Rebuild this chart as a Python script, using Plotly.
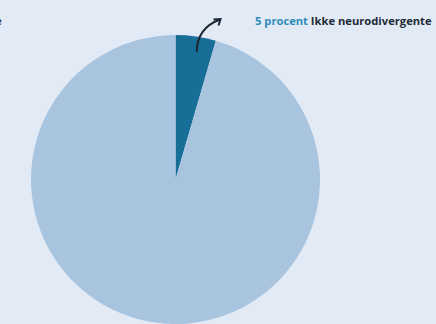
import plotly.graph_objects as go

labels = ["Ikke neurodivergente", "Neurodivergente"]
values = [4.5, 95.5]
colors = ["#176f97", "#a8c4df"]
label_pct = "5 procent"
label_txt = "Ikke neurodivergente"

W, H = 436, 324
BG = "#e2ebf5"

def px(x):
    return x / W

def py(y):
    return 1 - y / H

fig = go.Figure(go.Pie(
    labels=labels, values=values, sort=False, direction="clockwise", rotation=0,
    marker=dict(colors=colors, line=dict(width=0)),
    textinfo="none", hoverinfo="label+percent", showlegend=False,
    domain=dict(x=[px(30), px(321)], y=[0, py(35)]),
))

# curved arrow
curve = f"M {px(196.7)} {py(52)} Q {px(197)} {py(28)} {px(220)} {py(19.5)}"
head = f"M {px(213.5)} {py(19.5)} L {px(220.5)} {py(19)} L {px(218.5)} {py(25.5)}"
fig.add_shape(type="path", path=curve, xref="paper", yref="paper",
              line=dict(color="#1b2633", width=2))
fig.add_shape(type="path", path=head, xref="paper", yref="paper",
              line=dict(color="#1b2633", width=2))

fig.add_annotation(
    x=px(253), y=py(20), xref="paper", yref="paper", xanchor="left", yanchor="middle",
    showarrow=False,
    text=f"<b><span style='color:#2f8bb9'>{label_pct}</span> {label_txt}</b>",
    font=dict(family="Open Sans", size=11.2, color="#1e2b38"),
)
fig.add_annotation(
    x=px(4), y=py(20), xref="paper", yref="paper", xanchor="right", yanchor="middle",
    showarrow=False, text="<b>e</b>",
    font=dict(family="Open Sans", size=11.2, color="#1e2b38"),
)

fig.update_layout(
    width=W, height=H, margin=dict(l=0, r=0, t=0, b=0),
    paper_bgcolor=BG, plot_bgcolor=BG,
)
fig.write_html("out.html")
